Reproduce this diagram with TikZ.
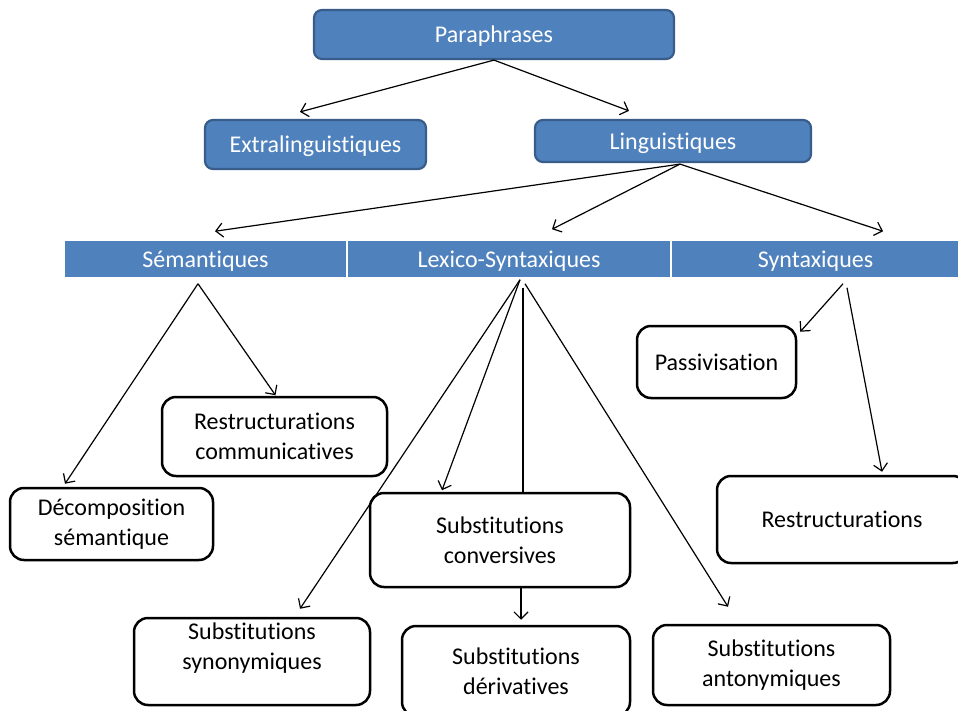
\documentclass[tikz,border=0pt]{standalone}
\usepackage{fontspec}
\setmainfont{Carlito}[Ligatures=NoCommon]
\usetikzlibrary{arrows.meta,calc}
\definecolor{boxblue}{HTML}{4F81BD}
\definecolor{boxedge}{HTML}{385D8A}
\tikzset{
  bluebox/.style={draw=boxedge, line width=2.2pt, fill=boxblue, rounded corners=8pt,
    text=white, inner sep=0pt, text height=22pt, text depth=5pt,
    font=\fontsize{24}{30}\selectfont},
  bandcell/.style={draw=white, line width=1.5pt, fill=boxblue, text=white,
    inner sep=0pt, text height=23pt, text depth=5pt,
    font=\fontsize{24}{30}\selectfont},
  plainbox/.style={draw=black, line width=2.5pt, rounded corners=14pt, fill=white,
    inner sep=0pt, align=center, font=\fontsize{24}{30}\selectfont},
  label text/.style={inner sep=0pt, align=center, font=\fontsize{24}{30}\selectfont},
  link/.style={line width=1.2pt, -{Straight Barb[length=7pt,width=14pt]}},
  plainlink/.style={line width=1.2pt}
}
\begin{document}
\begin{tikzpicture}[x=1pt,y=-1pt]
\useasboundingbox (0,0) rectangle (958,711);
\clip (0,0) rectangle (958,711);
\fill[white] (0,0) rectangle (958,711);

% top levels
\node[bluebox, minimum width=360pt, minimum height=49pt] (para) at (494,34.5) {Paraphrases};
\node[bluebox, minimum width=221pt, minimum height=49pt] (extra) at (315.5,144.5) {Extralinguistiques};
\node[bluebox, minimum width=276pt, minimum height=42pt] (ling) at (673,141) {Linguistiques};

% category band
\node[bandcell, minimum width=283pt, minimum height=38pt] (sem) at (205.5,259) {Sémantiques};
\node[bandcell, minimum width=324pt, minimum height=38pt] (lex) at (509,259) {Lexico-Syntaxiques};
\node[bandcell, minimum width=289pt, minimum height=38pt] (syn) at (815.5,259) {Syntaxiques};

% leaf boxes
\node[plainbox, minimum width=203pt, minimum height=72pt] (decomp) at (111.5,524) {Décomposition\\sémantique};
\node[plainbox, minimum width=225pt, minimum height=79pt] (restcom) at (274.5,436.5) {Restructurations\\communicatives};
\node[plainbox, minimum width=260pt, minimum height=94pt] (conv) at (500,540) {Substitutions\\conversives};
\node[plainbox, minimum width=236pt, minimum height=87pt] (syno) at (252,661.5) {};
\node[label text] (synotxt) at (252,648) {Substitutions\\synonymiques};
\node[plainbox, minimum width=228pt, minimum height=90pt] (deriv) at (516,671) {Substitutions\\dérivatives};
\node[plainbox, minimum width=237pt, minimum height=80pt] (anto) at (771.5,665) {Substitutions\\antonymiques};
\node[plainbox, minimum width=159pt, minimum height=72pt] (passiv) at (716.5,362) {Passivisation};
\node[plainbox, minimum width=250pt, minimum height=87pt] (restr) at (842,519.5) {Restructurations};

% connectors
\draw[link] (para.south) -- ($(extra.north)+(-15.5,-7)$);
\draw[link] (para.south) -- ($(ling.north)+(-44,-8)$);

\coordinate (lingfoot) at ($(ling.south)+(7,1)$);
\draw[link] (lingfoot) -- ($(sem.north)+(9.5,-8)$);
\draw[link] (lingfoot) -- ($(lex.north)+(43,-10)$);
\draw[link] (lingfoot) -- ($(syn.north)+(67.5,-8)$);

\coordinate (semfoot) at ($(sem.south)+(-7.5,5)$);
\draw[link] (semfoot) -- ($(decomp.north)+(-46.5,-3)$);
\draw[link] (semfoot) -- ($(restcom.north)+(1,-0.5)$);

\coordinate (lexfoot) at ($(lex.south)+(11,1)$);
\draw[link] (lexfoot) -- ($(syno.north)+(48,-8)$);
\draw[link] (lexfoot) -- ($(conv.north)+(-58,-1.5)$);
\draw[plainlink] ($(lex.south)+(14,9)$) -- ($(conv.north)+(23,0)$);
\draw[link] ($(lex.south)+(16,5)$) -- ($(anto.north)+(-43.5,-17)$);

\draw[link] ($(conv.south)+(21,0)$) -- ($(deriv.north)+(5,-5)$);

\draw[link] ($(syn.south)+(27.5,5)$) -- ($(passiv.north east)+(3,7)$);
\draw[link] ($(syn.south)+(31.5,9)$) -- ($(restr.north)+(40,-3)$);
\end{tikzpicture}
\end{document}
